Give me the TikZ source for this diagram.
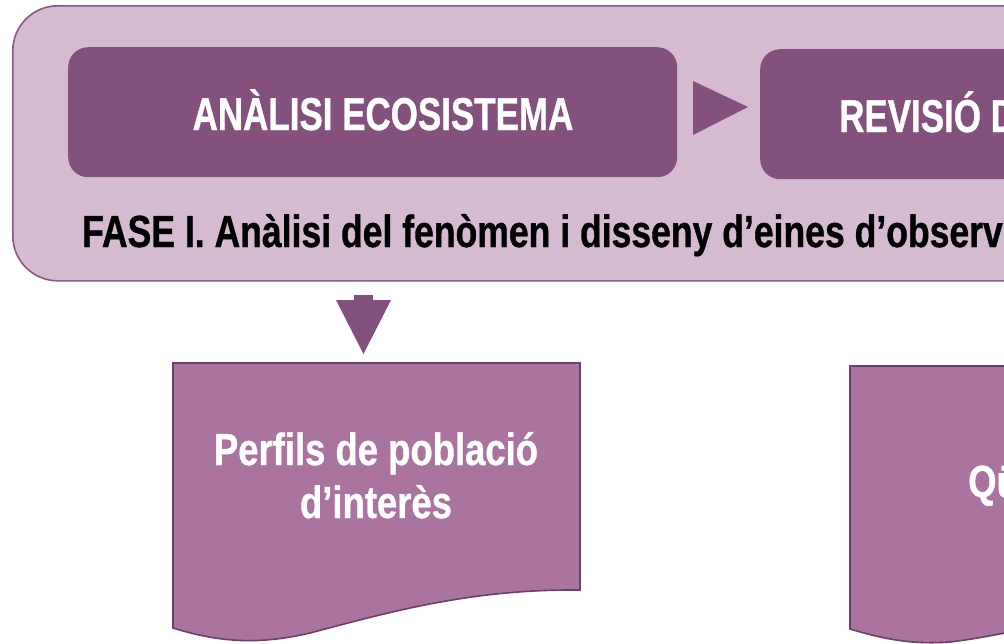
\documentclass[tikz,border=0pt]{standalone}
\usepackage{fontspec}
\newfontfamily\condh{Liberation Sans}[FakeStretch=0.76,FakeBold=0.8]
\newfontfamily\condp{Liberation Sans}[FakeStretch=0.79,FakeBold=0.8]
\newfontfamily\condd{Liberation Sans}[FakeStretch=0.81,FakeBold=0.8]
\definecolor{outerfill}{HTML}{D5BAD2}
\definecolor{outerline}{HTML}{8A5A86}
\definecolor{darkbox}{HTML}{84507E}
\definecolor{docfill}{HTML}{AB73A0}
\definecolor{docline}{HTML}{6E4069}
\begin{document}
\begin{tikzpicture}[x=1pt,y=-1pt,
  phasebox/.style={fill=outerfill,draw=outerline,line width=1.6pt,rounded corners=45pt},
  stagebox/.style={fill=darkbox,draw=none,rounded corners=20pt,inner sep=0pt},
  headtxt/.style={font=\condh\bfseries\fontsize{46}{50}\selectfont,text=white,inner sep=0pt},
  phasetxt/.style={font=\condp\bfseries\fontsize{45}{50}\selectfont,text=black,inner sep=0pt},
  doctxt/.style={font=\condd\bfseries\fontsize{45}{53}\selectfont,text=white,align=center,inner sep=0pt},
  docshape/.style={fill=docfill,draw=docline,line width=1.6pt,line join=miter},
  blockarrow/.style={fill=darkbox,draw=none}]
\useasboundingbox (0,0) rectangle (1004,643);
\clip (0,0) rectangle (1004,643);
\fill[white] (0,0) rectangle (1004,643);
% phase container
\node[phasebox,minimum width=1200pt,minimum height=275pt,anchor=north west] (phase) at (12,5) {};
% stage boxes
\node[stagebox,minimum width=609pt,minimum height=130pt,anchor=north west] (b1) at (68,47) {};
\node[stagebox,minimum width=400pt,minimum height=130pt,anchor=north west] (b2) at (760,49) {};
\node[headtxt,anchor=base] (t1) at (383,130) {ANÀLISI ECOSISTEMA};
\node[headtxt,anchor=base west] (t2) at (839,132) {REVISIÓ D};
\node[phasetxt,anchor=base west] (pt) at (82,247) {FASE I. Anàlisi del fenòmen i disseny d’eines d’observ};
% right block arrow between stage boxes
\coordinate (ra1) at (693,81);
\coordinate (ra2) at (748,107);
\coordinate (ra3) at (693,135);
\fill[blockarrow] (ra1) -- (ra2) -- (ra3) -- cycle;
% down block arrow
\coordinate (da1) at (336,300);
\coordinate (da2) at (391,300);
\coordinate (da3) at (363.5,354);
\fill[blockarrow] (354,295) rectangle (373,301);
\fill[blockarrow] (da1) -- (da2) -- (da3) -- cycle;
% document 1
\draw[docshape] (173,363) -- (580,363) -- (580,590)
  .. controls (470,589) and (390,612) .. (310,633)
  .. controls (255,646) and (215,641) .. (173,628) -- cycle;
\node[doctxt,anchor=base] (d1a) at (376,465) {Perfils de població};
\node[doctxt,anchor=base] (d1b) at (376,518) {d’interès};
% document 2
\draw[docshape] (850,366) -- (1200,366) -- (1200,600)
  .. controls (1100,610) and (1010,635) .. (950,642)
  .. controls (910,645) and (880,638) .. (850,629) -- cycle;
\node[doctxt,anchor=base west] (d2) at (968,497) {Qü};
\end{tikzpicture}
\end{document}
